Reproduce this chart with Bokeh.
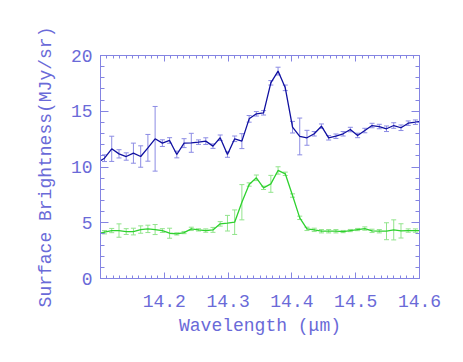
from bokeh.plotting import figure
from bokeh.models import ColumnDataSource, Whisker, TeeHead, LinearAxis, FixedTicker, Range1d
from bokeh.embed import file_html
from bokeh.resources import INLINE

wavelength = [14.0950, 14.1063, 14.1176, 14.1290, 14.1403, 14.1516, 14.1630, 14.1743,
              14.1856, 14.1970, 14.2083, 14.2196, 14.2310, 14.2423, 14.2536, 14.2650,
              14.2763, 14.2876, 14.2990, 14.3103, 14.3216, 14.3330, 14.3443, 14.3556,
              14.3670, 14.3783, 14.3896, 14.4010, 14.4123, 14.4236, 14.4350, 14.4463,
              14.4576, 14.4690, 14.4803, 14.4916, 14.5030, 14.5143, 14.5256, 14.5370,
              14.5483, 14.5596, 14.5710, 14.5823, 14.5936, 14.6050]

blue_flux = [10.4, 10.79, 11.63, 11.18, 10.94, 11.24, 10.94, 11.72, 12.53, 12.14, 12.38,
             11.12, 12.14, 12.17, 12.23, 12.32, 11.87, 12.62, 11.12, 12.53, 12.32, 14.32,
             14.77, 14.86, 17.55, 18.6, 17.1, 13.57, 12.74, 12.62, 12.98, 13.66, 12.62,
             12.76, 12.98, 13.36, 12.83, 13.27, 13.72, 13.63, 13.43, 13.72, 13.52, 13.93,
             14.02, 14.14]
blue_err = [0.3, 0.3, 1.13, 0.37, 0.33, 0.9, 0.96, 1.2, 2.9, 0.3, 0.25, 0.3, 0.4, 0.85,
            0.2, 0.3, 0.2, 0.25, 0.25, 0.25, 0.67, 0.3, 0.2, 0.2, 0.2, 0.35, 0.25, 0.52,
            1.65, 0.67, 0.2, 0.2, 0.2, 0.2, 0.2, 0.2, 0.2, 0.2, 0.2, 0.2, 0.25, 0.25, 0.25,
            0.2, 0.2, 0.2]

green_flux = [4.0, 4.15, 4.30, 4.30, 4.21, 4.21, 4.39, 4.45, 4.39, 4.30, 4.06, 4.0, 4.12,
              4.45, 4.36, 4.30, 4.36, 4.9, 4.96, 5.05, 6.84, 8.43, 9.03, 8.13, 8.49, 9.69,
              9.39, 7.44, 5.44, 4.45, 4.36, 4.24, 4.24, 4.24, 4.21, 4.30, 4.39, 4.48, 4.27,
              4.24, 4.24, 4.36, 4.27, 4.30, 4.30, 4.30]
green_err = [0.15, 0.15, 0.19, 0.6, 0.26, 0.3, 0.33, 0.33, 0.45, 0.17, 0.45, 0.1, 0.1,
             0.15, 0.1, 0.15, 0.22, 0.2, 0.7, 1.1, 1.58, 0.15, 0.25, 0.15, 0.76, 0.33,
             0.15, 0.15, 0.15, 0.15, 0.15, 0.15, 0.15, 0.15, 0.1, 0.1, 0.1, 0.15, 0.15,
             0.15, 0.76, 0.9, 0.64, 0.15, 0.15, 0.15]

x_ticks = [14.2, 14.3, 14.4, 14.5, 14.6]
y_ticks = [0, 5, 10, 15, 20]

x_label = "Wavelength (μm)"
y_label = "Surface Brightness(MJy/sr)"

AXIS_COLOR = "#8484e2"
TEXT_COLOR = "#6a6ad8"
FONT = "Liberation Mono"
FSIZE = "18px"

x_minor = [round(14.1 + 0.01 * k, 2) for k in range(51)]
y_minor = list(range(0, 21))

p = figure(width=455, height=354, output_backend="svg", toolbar_location=None,
           x_range=Range1d(14.1, 14.6), y_range=Range1d(0, 20),
           x_axis_location=None, y_axis_location=None,
           min_border_left=100, min_border_right=36, min_border_top=55, min_border_bottom=76)
p.grid.visible = False
p.outline_line_color = AXIS_COLOR
p.background_fill_color = "white"
p.border_fill_color = "white"


def style_axis(ax, show_labels, major_len, minor_len, ticks):
    ax.axis_line_color = AXIS_COLOR
    ax.major_tick_line_color = AXIS_COLOR
    ax.minor_tick_line_color = AXIS_COLOR
    ax.major_tick_in = major_len
    ax.major_tick_out = 0
    ax.minor_tick_in = minor_len
    ax.minor_tick_out = 0
    ax.major_label_text_font = FONT
    ax.major_label_text_color = TEXT_COLOR
    ax.major_label_text_font_size = FSIZE
    ax.axis_label_text_font = FONT
    ax.axis_label_text_color = TEXT_COLOR
    ax.axis_label_text_font_style = "normal"
    ax.axis_label_text_font_size = FSIZE
    if not show_labels:
        ax.major_label_overrides = {t: "" for t in ticks}
        ax.major_label_standoff = 0


xb = LinearAxis(ticker=FixedTicker(ticks=x_ticks, minor_ticks=x_minor), axis_label=x_label)
style_axis(xb, True, 6, 3, x_ticks)
xb.major_label_standoff = 16
xb.axis_label_standoff = 6
xt_top = LinearAxis(ticker=FixedTicker(ticks=x_ticks, minor_ticks=x_minor))
style_axis(xt_top, False, 6, 3, x_ticks)

yl = LinearAxis(ticker=FixedTicker(ticks=y_ticks, minor_ticks=y_minor), axis_label=y_label)
style_axis(yl, True, 8, 4, y_ticks)
yl.major_label_standoff = 8
yl.axis_label_standoff = 12
yr = LinearAxis(ticker=FixedTicker(ticks=y_ticks, minor_ticks=y_minor))
style_axis(yr, False, 8, 4, y_ticks)

p.add_layout(xb, "below")
p.add_layout(xt_top, "above")
p.add_layout(yl, "left")
p.add_layout(yr, "right")

blue_src = ColumnDataSource(dict(x=wavelength, y=blue_flux,
                                 lo=[v - e for v, e in zip(blue_flux, blue_err)],
                                 hi=[v + e for v, e in zip(blue_flux, blue_err)]))
green_src = ColumnDataSource(dict(x=wavelength, y=green_flux,
                                  lo=[v - e for v, e in zip(green_flux, green_err)],
                                  hi=[v + e for v, e in zip(green_flux, green_err)]))

for src, ecol in ((blue_src, "#8c8ce4"), (green_src, "#92e48c")):
    w = Whisker(source=src, base="x", lower="lo", upper="hi", dimension="height",
                line_color=ecol, line_width=1,
                upper_head=TeeHead(size=5, line_color=ecol, line_width=1),
                lower_head=TeeHead(size=5, line_color=ecol, line_width=1))
    p.add_layout(w)

p.line("x", "y", source=blue_src, line_color="#1010a0", line_width=1.3)
p.line("x", "y", source=green_src, line_color="#2ed12e", line_width=1.3)

open("out.html", "w").write(file_html(p, INLINE))
